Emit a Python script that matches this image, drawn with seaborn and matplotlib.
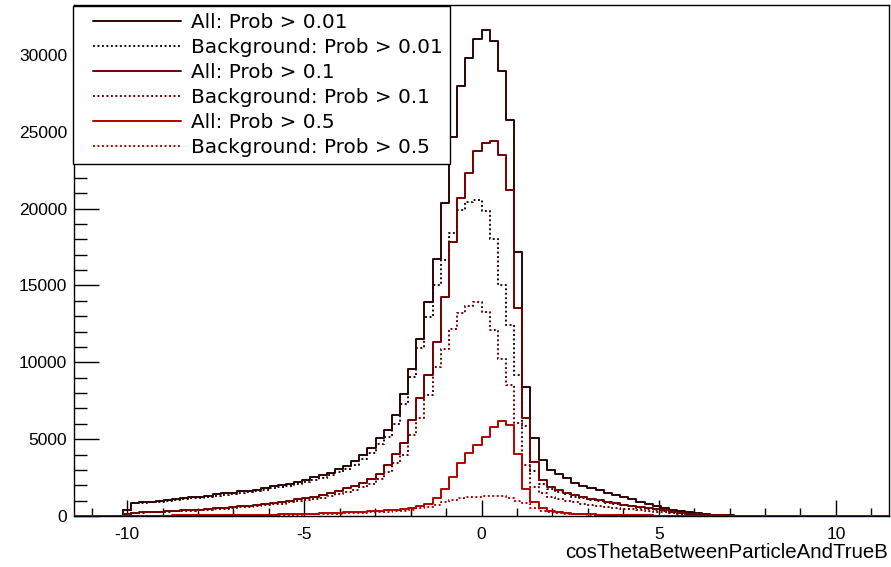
import numpy as np
import pandas as pd
import matplotlib
matplotlib.use("Agg")
import matplotlib.pyplot as plt
import seaborn as sns
from matplotlib.lines import Line2D
from matplotlib.legend_handler import HandlerBase
from matplotlib import font_manager

# ---------------- data (bin contents) ----------------
N_BINS = 100
X_MIN, X_MAX = -11.5, 11.5
FIRST_BIN = 6  # index of first non-empty bin

all_001 = [400, 870, 900, 930, 980, 1040, 1080, 1150, 1210, 1260,
           1320, 1400, 1470, 1520, 1600, 1650, 1700, 1800, 1950, 2020,
           2100, 2210, 2345, 2520, 2670, 2820, 3040, 3270, 3600, 3970,
           4450, 5100, 5620, 6575, 7920, 9550, 11500, 13910, 16710, 20360,
           24630, 27990, 29770, 31050, 31640, 30940, 28970, 25780, 17200, 8380,
           5060, 3650, 2995, 2750, 2450, 2130, 1950, 1800, 1690, 1520,
           1370, 1215, 1085, 935, 780, 650, 520, 410, 325, 240,
           175, 130, 87, 65, 43, 30, 20, 10, 5]
bkg_001 = [370, 820, 850, 880, 930, 985, 1020, 1090, 1150, 1195,
           1250, 1325, 1390, 1440, 1515, 1560, 1610, 1700, 1840, 1905,
           1980, 2080, 2200, 2370, 2500, 2640, 2840, 3050, 3350, 3680,
           4100, 4700, 5150, 6000, 7300, 9070, 10920, 12970, 15040, 16660,
           18400, 19920, 20460, 20570, 19870, 18010, 15040, 12430, 9180, 5860,
           2900, 2100, 1750, 1550, 1400, 1250, 1150, 1050, 960, 870,
           790, 710, 630, 550, 480, 410, 350, 290, 230, 175,
           130, 95, 65, 45, 30, 20, 12, 6, 3]
all_01 = [100, 220, 240, 260, 280, 300, 330, 360, 390, 420,
          460, 500, 540, 580, 630, 680, 720, 780, 850, 920,
          1000, 1080, 1170, 1260, 1360, 1480, 1620, 1800, 1950, 2150,
          2400, 2750, 3300, 4040, 4730, 6250, 7660, 9180, 11350, 14280,
          17840, 20680, 22310, 23760, 24300, 24410, 23460, 21220, 13560, 6360,
          3540, 2345, 1910, 1690, 1520, 1350, 1230, 1120, 1020, 920,
          820, 730, 650, 570, 500, 430, 360, 290, 220, 160,
          115, 80, 55, 35, 22, 12, 6, 3, 1]
bkg_01 = [90, 200, 215, 235, 250, 270, 295, 320, 350, 375,
          410, 445, 480, 515, 560, 600, 640, 690, 750, 810,
          880, 950, 1030, 1110, 1200, 1300, 1420, 1570, 1700, 1870,
          2080, 2380, 2850, 3450, 4000, 5250, 6400, 7900, 9680, 10850,
          12150, 13240, 13670, 13950, 13300, 12110, 10200, 8530, 6035, 3300,
          1900, 1500, 1250, 1100, 980, 880, 790, 710, 640, 580,
          530, 480, 430, 380, 330, 280, 240, 200, 160, 125,
          95, 70, 50, 35, 25, 15, 8, 4, 2]
all_05 = [10, 20, 22, 25, 28, 30, 33, 36, 40, 44,
          48, 52, 57, 62, 68, 74, 80, 88, 96, 105,
          115, 125, 137, 150, 170, 190, 210, 230, 255, 280,
          310, 340, 370, 400, 434, 542, 651, 781, 1150, 1736,
          2560, 3430, 4120, 4600, 5160, 5800, 6200, 5920, 4040, 1736,
          930, 500, 347, 260, 200, 160, 130, 110, 95, 80,
          70, 60, 50, 42, 35, 28, 22, 17, 13, 10,
          7, 5, 3, 2, 1, 0, 0, 0, 0]
bkg_05 = [8, 17, 18, 20, 22, 24, 26, 28, 31, 34,
          37, 40, 44, 48, 52, 57, 62, 68, 74, 81,
          88, 96, 105, 115, 130, 145, 160, 175, 195, 215,
          240, 265, 290, 310, 330, 390, 500, 610, 716, 890,
          1040, 1150, 1215, 1260, 1300, 1310, 1290, 1150, 1000, 825,
          500, 350, 250, 200, 160, 130, 110, 95, 80, 70,
          60, 50, 42, 35, 28, 22, 17, 13, 10, 7,
          5, 3, 2, 1, 0, 0, 0, 0, 0]

labels = ["All: Prob > 0.01", "Background: Prob > 0.01",
          "All: Prob > 0.1", "Background: Prob > 0.1",
          "All: Prob > 0.5", "Background: Prob > 0.5"]
series = [all_001, bkg_001, all_01, bkg_01, all_05, bkg_05]
colors = ["#2a0505", "#2a0505", "#730000", "#730000", "#b80000", "#b80000"]
styles = ["-", ":", "-", ":", "-", ":"]

xticks = [-10, -5, 0, 5, 10]
yticks = [0, 5000, 10000, 15000, 20000, 25000, 30000]
xlabel = "cosThetaBetweenParticleAndTrueB"

# ---------------- build table ----------------
edges = np.linspace(X_MIN, X_MAX, N_BINS + 1)
centers = 0.5 * (edges[:-1] + edges[1:])
frames = []
for lab, vals in zip(labels, series):
    w = np.zeros(N_BINS)
    w[FIRST_BIN:FIRST_BIN + len(vals)] = vals
    frames.append(pd.DataFrame({"x": centers, "w": w, "series": lab}))
df = pd.concat(frames, ignore_index=True)

# ---------------- style ----------------
sns.set_theme(style="white")
plt.rcParams["font.family"] = ["DejaVu Sans"]
plt.rcParams["text.color"] = "black"
plt.rcParams["axes.labelcolor"] = "black"
plt.rcParams["xtick.color"] = "black"
plt.rcParams["ytick.color"] = "black"

avail = {f.name for f in font_manager.fontManager.ttflist}
if "Liberation Sans Narrow" in avail:
    tick_font, tick_size = "Liberation Sans Narrow", 13.6
else:
    tick_font, tick_size = "Liberation Sans", 12.5

fig = plt.figure(figsize=(8.91, 5.67), dpi=100)
ax = fig.add_axes([74 / 891, 1 - 516 / 567, (889 - 74) / 891, (516 - 5) / 567])

DOT = (0, (1, 1.3))
for lab, col, ls in zip(labels, colors, styles):
    sub = df[df["series"] == lab]
    sns.histplot(data=sub, x="x", weights="w", bins=N_BINS,
                 binrange=(X_MIN, X_MAX), element="step",
                 fill=False, color=col, linewidth=1.4,
                 linestyle=(DOT if ls == ":" else "-"), ax=ax)

ax.set_xlim(X_MIN, X_MAX)
ax.set_ylim(0, 33250)
ax.set_ylabel("")
ax.set_xlabel("")

# ROOT-like axes
for sp in ax.spines.values():
    sp.set_visible(True)
    sp.set_color("black")
    sp.set_linewidth(1.0)
ax.set_xticks(xticks)
ax.set_xticks(np.arange(-11, 12, 1), minor=True)
ax.set_yticks(yticks)
ax.set_yticks(np.arange(0, 33001, 1000), minor=True)
ax.tick_params(axis="x", which="major", direction="in", length=11.5, width=1.0,
               color="black", labelcolor="black", pad=8)
ax.tick_params(axis="x", which="minor", direction="in", length=5.8, width=1.0, color="black")
ax.tick_params(axis="y", which="major", direction="in", length=18, width=1.0,
               color="black", labelcolor="black", pad=5)
ax.tick_params(axis="y", which="minor", direction="in", length=9, width=1.0, color="black")
ax.tick_params(bottom=True, left=True, top=False, right=False, which="both")
ax.set_xticklabels([str(v) for v in xticks])
ax.set_yticklabels([str(v) for v in yticks])
for t in ax.get_xticklabels() + ax.get_yticklabels():
    t.set_fontfamily(tick_font)
    t.set_fontsize(tick_size)
    t.set_color("black")

fig.text(888 / 891, 1 - 553 / 567, xlabel, ha="right", va="center",
         fontsize=14.7, family="Liberation Sans", color="black")


class InsetLine(HandlerBase):
    def create_artists(self, legend, orig_handle, xdescent, ydescent,
                       width, height, fontsize, trans):
        y = height / 2 - ydescent
        x0 = -xdescent + 0.13 * width
        x1 = -xdescent + width
        ln = Line2D([x0, x1], [y, y], color=orig_handle.get_color(),
                    linewidth=orig_handle.get_linewidth(), transform=trans)
        ln.set_linestyle(orig_handle._ls_spec)
        return [ln]


handles = []
for lab, col, ls in zip(labels, colors, styles):
    h = Line2D([0], [0], color=col, linewidth=1.4)
    h._ls_spec = DOT if ls == ":" else "-"
    handles.append(h)

leg = ax.legend(handles, labels, loc="upper left", bbox_to_anchor=(-0.001, 0.998),
                borderaxespad=0, fontsize=14.4, frameon=True, fancybox=False,
                edgecolor="black", framealpha=1, borderpad=0.35,
                handlelength=5.05, handletextpad=0.5, labelspacing=0.3,
                handler_map={Line2D: InsetLine()})
leg.get_frame().set_linewidth(1.0)
for t in leg.get_texts():
    t.set_color("black")

fig.savefig("out.png", dpi=100)
